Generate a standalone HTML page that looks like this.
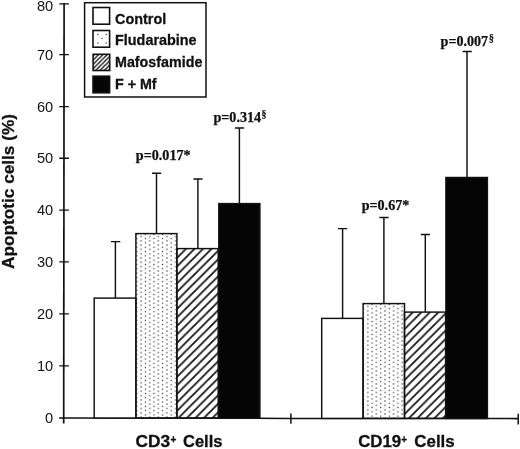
<!DOCTYPE html>
<html>
<head>
<meta charset="utf-8">
<style>
html,body{margin:0;padding:0;background:#fff;}
body{width:520px;height:449px;overflow:hidden;}
svg{display:block;will-change:transform;}
text{fill:#111;}
.ax{font-family:"Liberation Sans",sans-serif;font-size:14.6px;}
.b{font-family:"Liberation Sans",sans-serif;font-weight:bold;stroke:#111;stroke-width:0.3px;}
.p{font-family:"Liberation Serif",serif;font-weight:bold;font-size:13.6px;stroke:#111;stroke-width:0.25px;}
</style>
</head>
<body>
<svg width="520" height="449" viewBox="0 0 520 449">
<defs>
<pattern id="dots" x="141.1" y="236.5" width="8.6" height="4.3" patternUnits="userSpaceOnUse">
<rect x="-0.6" y="-0.6" width="1.2" height="1.2" fill="#2a2a2a"/>
<rect x="8" y="-0.6" width="1.2" height="1.2" fill="#2a2a2a"/>
<rect x="-0.6" y="3.7" width="1.2" height="1.2" fill="#2a2a2a"/>
<rect x="8" y="3.7" width="1.2" height="1.2" fill="#2a2a2a"/>
<rect x="3.7" y="1.55" width="1.2" height="1.2" fill="#2a2a2a"/>
</pattern>
<pattern id="dots2" x="367.8" y="306.5" width="8.6" height="4.3" patternUnits="userSpaceOnUse">
<rect x="-0.6" y="-0.6" width="1.2" height="1.2" fill="#2a2a2a"/>
<rect x="8" y="-0.6" width="1.2" height="1.2" fill="#2a2a2a"/>
<rect x="-0.6" y="3.7" width="1.2" height="1.2" fill="#2a2a2a"/>
<rect x="8" y="3.7" width="1.2" height="1.2" fill="#2a2a2a"/>
<rect x="3.7" y="1.55" width="1.2" height="1.2" fill="#2a2a2a"/>
</pattern>
<pattern id="hatch" width="8.5" height="8.5" patternUnits="userSpaceOnUse" x="186.4" y="248.5">
<path d="M-2,2 L2,-2 M-2,10.5 L10.5,-2 M6.5,10.5 L10.5,6.5" stroke="#111" stroke-width="1.75" fill="none"/>
</pattern>
<pattern id="hatch2" width="8.5" height="8.5" patternUnits="userSpaceOnUse" x="404.7" y="320.45">
<path d="M-2,2 L2,-2 M-2,10.5 L10.5,-2 M6.5,10.5 L10.5,6.5" stroke="#111" stroke-width="1.75" fill="none"/>
</pattern>
<pattern id="lhatch" width="4.3" height="4.3" patternUnits="userSpaceOnUse" x="93" y="55.9">
<path d="M-1,1 L1,-1 M-1,5.3 L5.3,-1 M3.3,5.3 L5.3,3.3" stroke="#111" stroke-width="1.35" fill="none"/>
</pattern>
</defs>
<rect width="520" height="449" fill="#fff"/>

<!-- axes -->
<g stroke="#111" fill="none">
<path stroke-width="1.7" d="M64.1,3 L63.7,423.6"/>
<path stroke-width="1.55" d="M59.1,417.9 L290,418.4 L518.2,418.6"/>
<path stroke-width="1.4" d="M59.3,3.9 H68.9 M59.3,54.6 H68.9 M59.3,106.6 H68.9 M59.3,158.2 H68.9 M59.3,210.1 H68.9 M59.3,261.9 H68.9 M59.3,313.9 H68.9 M59.3,365.9 H68.9"/>
<path stroke-width="1.5" d="M290.9,413.5 V423.8 M518.2,413.8 V424.6"/>
</g>

<!-- y tick labels -->
<g class="ax" text-anchor="end">
<text x="53.2" y="10.6">80</text>
<text x="53.2" y="59.7">70</text>
<text x="53.2" y="111.6">60</text>
<text x="53.2" y="163.1">50</text>
<text x="53.2" y="215">40</text>
<text x="53.2" y="266.9">30</text>
<text x="53.2" y="319">20</text>
<text x="53.2" y="371.1">10</text>
<text x="53.2" y="423.1">0</text>
</g>

<!-- y label -->
<text class="b" font-size="16.2" transform="translate(14.3,269) rotate(-90)" textLength="155" lengthAdjust="spacingAndGlyphs">Apoptotic cells (%)</text>

<!-- error bars -->
<g stroke="#111" stroke-width="1.45" fill="none">
<path d="M115.4,298 V241.6 M110.9,241.6 H120.3"/>
<path d="M156.5,233 V173.3 M152,173.3 H161.2"/>
<path d="M197.9,248 V179 M193.4,179 H202.6"/>
<path d="M239.4,204 V128 M234.9,128 H244.1"/>
<path d="M342.6,318 V228.6 M338,228.6 H347.2"/>
<path d="M383.9,303 V217.5 M379.4,217.5 H388.6"/>
<path d="M425.3,312 V234.4 M420.8,234.4 H430"/>
<path d="M467,177 V51.4 M462.6,51.4 H471.8"/>
</g>

<!-- bars group 1 -->
<g stroke="#111" stroke-width="1.45">
<rect x="94.2" y="298.1" width="41.7" height="119.9" fill="#fff"/>
<rect x="135.9" y="233.6" width="41" height="184.4" fill="url(#dots)"/>
<rect x="176.9" y="248.6" width="41.3" height="169.4" fill="url(#hatch)"/>
<rect x="218.8" y="203.6" width="41.1" height="214.6" fill="#050505"/>
<!-- group 2 -->
<rect x="321.7" y="318.4" width="41.4" height="100" fill="#fff"/>
<rect x="363.1" y="303.6" width="41.4" height="114.8" fill="url(#dots2)"/>
<rect x="404.5" y="312.1" width="41.1" height="106.3" fill="url(#hatch2)"/>
<rect x="445.9" y="177.5" width="41.5" height="241" fill="#050505"/>
</g>

<!-- p labels -->
<text class="p" x="135.8" y="159.6" textLength="54.8" lengthAdjust="spacingAndGlyphs">p=0.017*</text>
<text class="p" x="213.4" y="122.3" textLength="47.8" lengthAdjust="spacingAndGlyphs">p=0.314</text>
<text class="p" style="font-size:9.7px" x="261.4" y="116.9">§</text>
<text class="p" x="361.7" y="209.8" textLength="47.6" lengthAdjust="spacingAndGlyphs">p=0.67*</text>
<text class="p" x="440.6" y="46.4" textLength="47.4" lengthAdjust="spacingAndGlyphs">p=0.007</text>
<text class="p" style="font-size:9.7px" x="488.9" y="40.8">§</text>

<!-- x labels -->
<text class="b" font-size="16" x="135.6" y="447.2" textLength="34.6" lengthAdjust="spacingAndGlyphs">CD3</text>
<text class="b" font-size="10" x="170.4" y="443.2">+</text>
<text class="b" font-size="16" x="183" y="447.2" textLength="39.4" lengthAdjust="spacingAndGlyphs">Cells</text>
<text class="b" font-size="16" x="358.2" y="447.2" textLength="43" lengthAdjust="spacingAndGlyphs">CD19</text>
<text class="b" font-size="10" x="401.3" y="443.2">+</text>
<text class="b" font-size="16" x="414.3" y="447.2" textLength="40.4" lengthAdjust="spacingAndGlyphs">Cells</text>

<!-- legend -->
<rect x="84.6" y="2.7" width="121.4" height="94.3" fill="#fff" stroke="#111" stroke-width="1.5"/>
<g stroke="#111" stroke-width="1.6">
<rect x="93" y="7.5" width="16.6" height="16.7" fill="#fff"/>
<rect x="93" y="30.5" width="16.6" height="16.7" fill="#fff"/>
<rect x="93.1" y="54.3" width="16.6" height="16.2" fill="url(#lhatch)"/>
<rect x="93" y="76.2" width="16.6" height="16.6" fill="#050505"/>
</g>
<g fill="#333">
<rect x="97.2" y="33.7" width="1.2" height="1.2"/><rect x="105.6" y="33.7" width="1.2" height="1.2"/>
<rect x="101.4" y="37.9" width="1.2" height="1.2"/>
<rect x="97.2" y="42.4" width="1.2" height="1.2"/><rect x="105.6" y="42.4" width="1.2" height="1.2"/>
</g>
<g class="b" font-size="14.8">
<text x="115" y="23.8" textLength="51.2" lengthAdjust="spacingAndGlyphs">Control</text>
<text x="115" y="45" textLength="81.6" lengthAdjust="spacingAndGlyphs">Fludarabine</text>
<text x="115" y="67.3" textLength="87.4" lengthAdjust="spacingAndGlyphs">Mafosfamide</text>
<text x="115" y="89.4" textLength="41.6" lengthAdjust="spacingAndGlyphs">F + Mf</text>
</g>
</svg>
</body>
</html>
